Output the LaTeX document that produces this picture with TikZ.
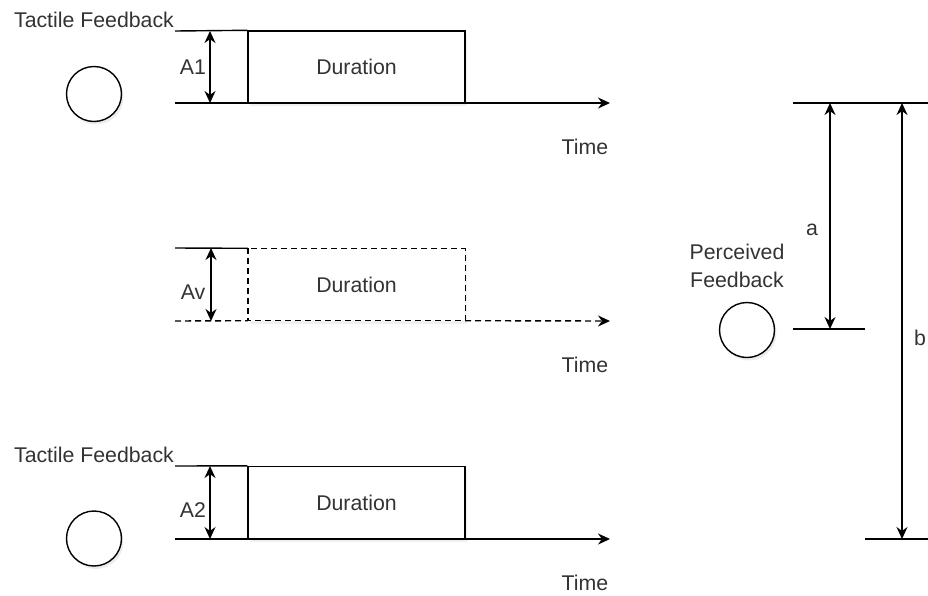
\documentclass[tikz,border=0pt]{standalone}
\usepackage{fontspec}
\setmainfont{Liberation Sans}
\usetikzlibrary{arrows.meta,shadows}
\definecolor{txt}{HTML}{333333}
\tikzset{
  ln/.style={line width=1.4pt, black},
  dsh/.style={ln, dash pattern=on 6pt off 4pt},
  dim/.style={ln, {Stealth[length=12pt,width=11pt]}-{Stealth[length=12pt,width=11pt]}},
  upar/.style={ln, -{Stealth[length=12pt,width=11pt]}},
  lbl/.style={text=txt, font=\fontsize{21.3}{25}\selectfont, inner sep=0pt, align=center},
  fb/.style={circle, draw, line width=1.4pt, minimum size=55pt, inner sep=0pt, fill=white,
    drop shadow={opacity=0.15, shadow xshift=2pt, shadow yshift=-3pt}},
  dur/.style={draw, line width=1.4pt, minimum width=217pt, minimum height=72pt, inner sep=0pt, fill=white,
    drop shadow={opacity=0.12, shadow xshift=2pt, shadow yshift=-3pt}, lbl}
}
\begin{document}
\begin{tikzpicture}[x=1pt,y=-1pt]
\useasboundingbox (0,0) rectangle (928,595);
% ---------- top row ----------
\node[lbl] (tf1) at (94,20) {Tactile Feedback};
\node[fb] (c1) at (94,94) {};
\node[dur] (d1) at (356.5,67) {Duration};
\coordinate (t1a) at (175,31);
\coordinate (x1a) at (175,103);
\coordinate (x1b) at (610,103);
\draw[ln] (t1a) -- (d1.north west);
\draw[upar] (x1a) -- (x1b);
\coordinate (a1t) at (210,31);
\coordinate (a1b) at (210,103);
\draw[dim] (a1t) -- (a1b);
\node[lbl] (lA1) at (193,67) {A1};
\node[lbl] (time1) at (585,147) {Time};
% ---------- middle row ----------
\node[draw=none, minimum width=217pt, minimum height=72pt, inner sep=0pt, fill=white,
  drop shadow={opacity=0.12, shadow xshift=2pt, shadow yshift=-3pt}] (d2) at (356.5,284.5) {};
\draw[dsh] (d2.north west) rectangle (d2.south east);
\node[lbl] (d2t) at (d2.center) {Duration};
\coordinate (t2a) at (175,248);
\coordinate (x2a) at (175,321);
\coordinate (x2b) at (610,321);
\draw[ln] (t2a) -- (d2.north west);
\draw[dsh] (x2a) -- (d2.south west);
\draw[dsh, -{Stealth[length=12pt,width=11pt]}] (d2.south east) -- (x2b);
\coordinate (avt) at (211,248);
\coordinate (avb) at (211,321);
\draw[dim] (avt) -- (avb);
\node[lbl] (lAv) at (193,292) {Av};
\node[lbl] (time2) at (585,365) {Time};
% ---------- bottom row ----------
\node[lbl] (tf3) at (94,455) {Tactile Feedback};
\node[fb] (c3) at (94,538.5) {};
\node[dur] (d3) at (356.5,502.5) {Duration};
\coordinate (t3a) at (175,466);
\coordinate (x3a) at (175,539);
\coordinate (x3b) at (610,539);
\draw[ln] (t3a) -- (d3.north west);
\draw[upar] (x3a) -- (x3b);
\coordinate (a2t) at (210,466);
\coordinate (a2b) at (210,539);
\draw[dim] (a2t) -- (a2b);
\node[lbl] (lA2) at (193,510) {A2};
\node[lbl] (time3) at (585,583) {Time};
% ---------- right part ----------
\coordinate (rt1) at (793,103);
\coordinate (rt2) at (928,103);
\draw[ln] (rt1) -- (rt2);
\coordinate (rm1) at (793,329);
\coordinate (rm2) at (865,329);
\draw[ln] (rm1) -- (rm2);
\coordinate (rb1) at (865,539);
\coordinate (rb2) at (928,539);
\draw[ln] (rb1) -- (rb2);
\coordinate (aat) at (830,103);
\coordinate (aab) at (830,329);
\draw[dim] (aat) -- (aab);
\coordinate (bbt) at (902,103);
\coordinate (bbb) at (902,539);
\draw[dim] (bbt) -- (bbb);
\node[lbl] (la) at (812,230) {a};
\node[lbl] (lb) at (920,338) {b};
\node[lbl] (pf) at (737,266) {Perceived\\[3pt]Feedback};
\node[fb] (c2) at (747,330) {};
\end{tikzpicture}
\end{document}
